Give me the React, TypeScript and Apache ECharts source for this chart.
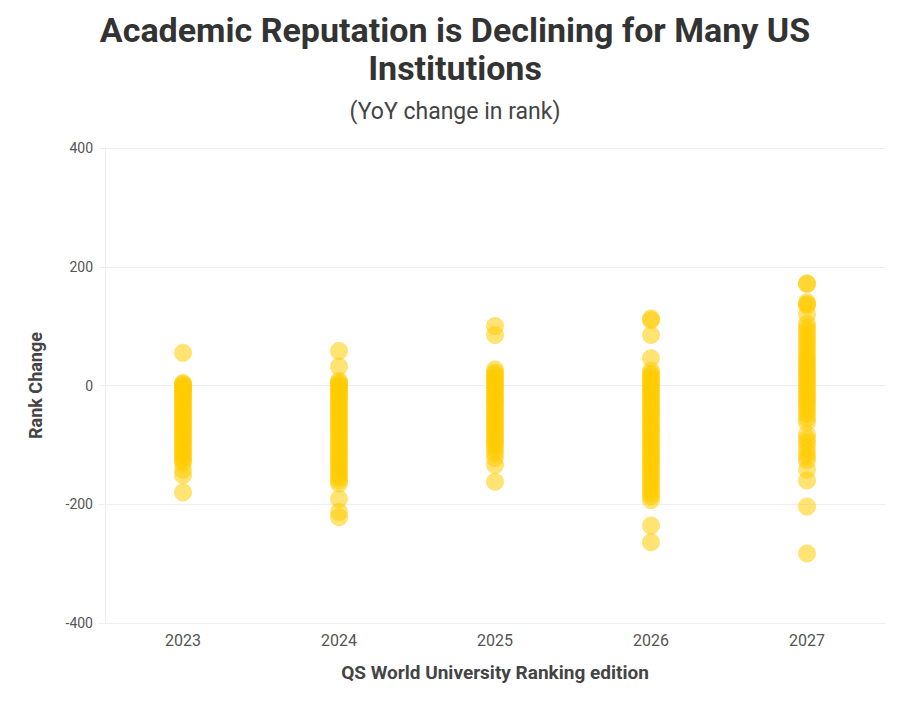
import { useEffect, useRef } from "react";
import * as echarts from "echarts";

const editions = ["2023", "2024", "2025", "2026", "2027"];

const change2023 = [55, 4, 2, 0, -3, -5, -8, -10, -14, -18, -20, -25, -28, -32, -35, -40, -44, -48, -52, -55, -60, -63, -68, -72, -75, -80, -84, -88, -92, -97, -100, -105, -110, -113, -118, -122, -126, -130, -142, -151, -180];
const change2024 = [58, 32, 8, 5, 2, -1, -4, -8, -12, -15, -20, -24, -28, -33, -37, -41, -46, -50, -54, -58, -63, -67, -72, -76, -80, -85, -90, -94, -98, -103, -108, -112, -117, -121, -126, -130, -135, -140, -145, -150, -155, -160, -165, -191, -213, -222];
const change2025 = [100, 85, 27, 22, 18, 14, 10, 6, 2, -2, -6, -10, -15, -20, -24, -28, -33, -38, -42, -47, -52, -56, -60, -65, -70, -74, -78, -83, -88, -92, -97, -102, -108, -114, -122, -134, -162];
const change2026 = [113, 110, 85, 46, 25, 20, 16, 12, 8, 4, 0, -4, -8, -12, -17, -22, -26, -30, -35, -40, -44, -48, -53, -58, -62, -67, -72, -76, -80, -85, -90, -95, -100, -104, -108, -113, -118, -122, -126, -131, -136, -140, -145, -150, -155, -160, -165, -170, -176, -182, -187, -193, -236, -264];
const change2027 = [172, 171, 140, 137, 135, 120, 104, 98, 92, 86, 80, 74, 68, 62, 56, 50, 45, 40, 35, 30, 25, 20, 15, 10, 5, 0, -5, -10, -15, -20, -25, -30, -36, -42, -48, -55, -62, -82, -90, -97, -105, -113, -120, -126, -142, -160, -204, -283];

const yTicks = [-400, -200, 0, 200, 400];

const FONT = "Roboto, 'Noto Sans', sans-serif";

export default function App() {
  const chartRef = useRef<HTMLDivElement | null>(null);

  useEffect(() => {
    if (!chartRef.current) return;
    document.body.style.margin = "0";

    const columns = [change2023, change2024, change2025, change2026, change2027];
    const points: [string, number][] = [];
    columns.forEach((vals, i) => vals.forEach((v) => points.push([editions[i], v])));

    const chart = echarts.init(chartRef.current, null, { renderer: "svg" });
    chart.setOption({
      animation: false,
      textStyle: { fontFamily: FONT },
      title: [
        {
          text: "Academic Reputation is Declining for Many US\nInstitutions",
          left: 450,
          top: 6,
          textAlign: "center",
          textStyle: { fontSize: 34, fontWeight: "bold", color: "#333", lineHeight: 38, fontFamily: FONT },
        },
        {
          text: "(YoY change in rank)",
          left: 450,
          top: 95,
          textAlign: "center",
          textStyle: { fontSize: 23, fontWeight: "normal", color: "#444", fontFamily: FONT },
        },
      ],
      grid: { left: 105, right: 16, top: 148, bottom: 85 },
      xAxis: {
        type: "category",
        data: editions,
        name: "QS World University Ranking edition",
        nameLocation: "middle",
        nameGap: 40,
        nameTextStyle: { fontSize: 19, fontWeight: "bold", color: "#444" },
        axisLine: { lineStyle: { color: "#eee" } },
        axisTick: { show: false },
        axisLabel: { fontSize: 16, color: "#555", margin: 9 },
      },
      yAxis: {
        type: "value",
        min: yTicks[0],
        max: yTicks[yTicks.length - 1],
        interval: 200,
        name: "Rank Change",
        nameLocation: "middle",
        nameGap: 61,
        nameTextStyle: { fontSize: 18, fontWeight: "bold", color: "#444" },
        axisLine: { show: true, lineStyle: { color: "#eee" } },
        axisTick: { show: true, length: 6, lineStyle: { color: "#eee" } },
        axisLabel: { fontSize: 14, color: "#555", margin: 12 },
        splitLine: { lineStyle: { color: "#eee" } },
      },
      series: [
        {
          type: "scatter",
          data: points,
          symbolSize: 18,
          itemStyle: { color: "#FFCC00", opacity: 0.55 },
        },
      ],
    });

    return () => chart.dispose();
  }, []);

  return <div ref={chartRef} style={{ width: "901px", height: "708px" }} />;
}
